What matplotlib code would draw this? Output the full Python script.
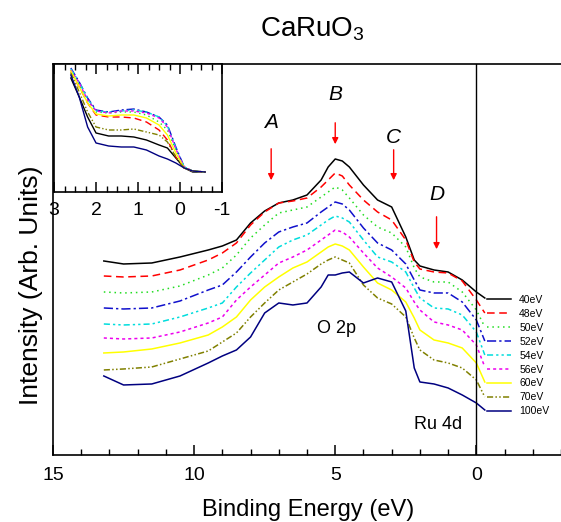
import matplotlib

matplotlib.use("Agg")
import matplotlib.pyplot as plt
from matplotlib.ticker import MultipleLocator

plt.rcParams["font.family"] = ["Liberation Sans", "DejaVu Sans"]
plt.rcParams["mathtext.fontset"] = "custom"
plt.rcParams["mathtext.rm"] = "Liberation Sans"
plt.rcParams["mathtext.it"] = "Liberation Sans:italic"
plt.rcParams["axes.unicode_minus"] = False

# photon energies (legend) and per-curve styles
labels = ["40eV", "48eV", "50eV", "52eV", "54eV", "56eV", "60eV", "70eV", "100eV"]
colors = ["#000000", "#ff0000", "#22dd22", "#1010cc", "#00dddd",
          "#ee00ee", "#ffff00", "#808000", "#000080"]
styles = ["-", (0, (5, 3)), (0, (1, 2.5)), (0, (6, 2, 1.5, 2)),
          (0, (4, 2, 1.5, 2, 1.5, 2)), (0, (2, 2)), "-",
          (0, (4, 1.5, 1, 1.5, 1, 1.5)), "-"]

# main panel: binding energy (eV) and stacked intensities (arb. units)
energy = [13.2, 12.5, 11.5, 10.5, 9.5, 9.0, 8.5, 8.0, 7.5, 7.0, 6.5, 6.0, 5.5, 5.25,
          5.0, 4.75, 4.5, 4.0, 3.5, 3.0, 2.5, 2.2, 2.0, 1.5, 1.0, 0.5, 0.0, -0.3]
i_40 = [194, 191, 192, 198, 205, 209, 215, 232, 244, 252, 255, 260, 275, 288,
        296, 294, 288, 270, 255, 248, 218, 195, 189, 185, 183, 175, 163, 157]
i_48 = [179, 178, 179, 185, 195, 202, 212, 230, 243, 252, 254, 257, 268, 275,
        282, 279, 270, 255, 243, 235, 215, 193, 186, 183, 182, 174, 155, 142]
i_50 = [163, 162, 163, 169, 180, 187, 200, 217, 230, 242, 245, 248, 258, 263,
        268, 265, 257, 240, 228, 222, 208, 187, 178, 173, 173, 163, 145, 128]
i_52 = [147, 146, 147, 154, 165, 170, 183, 198, 212, 223, 228, 232, 243, 248,
        253, 251, 245, 227, 212, 205, 191, 175, 165, 162, 162, 153, 135, 114]
i_54 = [131, 130, 131, 138, 147, 152, 168, 182, 195, 208, 215, 220, 230, 235,
        239, 237, 233, 215, 198, 193, 183, 167, 157, 147, 146, 140, 123, 100]
i_56 = [117, 116, 117, 123, 132, 138, 155, 168, 180, 192, 198, 205, 215, 220,
        225, 223, 218, 202, 187, 178, 167, 153, 145, 133, 130, 125, 110, 88]
i_60 = [102, 103, 106, 112, 120, 128, 138, 155, 168, 178, 187, 193, 203, 208,
        211, 209, 205, 188, 172, 165, 153, 137, 125, 115, 112, 107, 92, 73]
i_70 = [85, 86, 88, 96, 104, 113, 122, 138, 152, 165, 173, 181, 191, 195,
        198, 195, 192, 170, 157, 151, 138, 117, 105, 95, 92, 87, 75, 58]
i_100 = [79, 70, 71, 79, 92, 99, 105, 118, 142, 152, 150, 152, 168, 180,
         180, 182, 183, 172, 177, 173, 144, 87, 73, 71, 67, 60, 52, 45]
spectra = [i_40, i_48, i_50, i_52, i_54, i_56, i_60, i_70, i_100]

# inset: near-Fermi-level region
ins_energy = [2.6, 2.4, 2.2, 2.0, 1.7, 1.4, 1.1, 0.8, 0.5, 0.3, 0.1, -0.1, -0.3, -0.6]
ins_40 = [114, 95, 75, 59, 56, 56, 55, 52, 47, 44, 34, 24, 20, 20]
ins_48 = [120, 105, 89, 77, 75, 75, 74, 70, 62, 52, 35, 24, 21, 20]
ins_50 = [122, 107, 92, 80, 79, 80, 80, 77, 70, 62, 42, 25, 21, 20]
ins_52 = [124, 110, 94, 82, 80, 82, 83, 80, 75, 67, 45, 25, 21, 20]
ins_54 = [123, 110, 93, 81, 80, 81, 82, 80, 75, 66, 44, 25, 21, 20]
ins_56 = [122, 109, 92, 81, 79, 81, 81, 79, 74, 65, 43, 25, 21, 20]
ins_60 = [121, 105, 89, 78, 76, 77, 77, 74, 67, 57, 39, 24, 21, 20]
ins_70 = [119, 100, 80, 65, 62, 62, 63, 60, 57, 50, 35, 24, 21, 20]
ins_100 = [117, 95, 65, 49, 46, 45, 45, 42, 36, 33, 29, 24, 21, 20]
ins_spectra = [ins_40, ins_48, ins_50, ins_52, ins_54, ins_56, ins_60, ins_70, ins_100]

# feature markers A-D
feat_names = ["A", "B", "C", "D"]
feat_x = [7.27, 5.0, 2.93, 1.41]
feat_top = [309, 335, 308, 241]
feat_tip = [272, 308, 272, 203]
feat_label_y = [332, 360, 317, 260]

fig = plt.figure(figsize=(5.61, 5.22), dpi=100)
ax = fig.add_axes([0.0945, 0.1284, 0.9055, 0.749])

for y, c, ls, lab in zip(spectra, colors, styles, labels):
    ax.plot(energy, y, color=c, linestyle=ls, linewidth=1.1, label=lab)

ax.axvline(0, color="black", linewidth=1.0)
ax.set_xlim(15, -3)
ax.set_ylim(0, 391)
ax.xaxis.set_major_locator(MultipleLocator(5))
ax.xaxis.set_minor_locator(MultipleLocator(1))
ax.tick_params(axis="x", which="both", direction="in", top=False, labelsize=14, pad=8.5)
ax.tick_params(axis="x", which="major", length=7, width=1.1)
ax.tick_params(axis="x", which="minor", length=4, width=1.0)
ax.set_yticks([])
ax.spines["right"].set_visible(False)
for s in ("left", "bottom", "top"):
    ax.spines[s].set_linewidth(1.2)

for name, x, top, tip, ly in zip(feat_names, feat_x, feat_top, feat_tip, feat_label_y):
    ax.annotate("", xy=(x, tip), xytext=(x, top),
                arrowprops=dict(arrowstyle="-|>", color="red", lw=1.0, mutation_scale=9))
    ax.text(x, ly, name, fontsize=15, style="italic", ha="center", va="center")

ax.text(4.95, 126, "O 2p", fontsize=13, ha="center", va="center")
ax.text(1.34, 30, "Ru 4d", fontsize=13, ha="center", va="center")

ax.legend(loc="upper left", bbox_to_anchor=(0.868, 0.4354), bbox_transform=fig.transFigure,
          frameon=False, fontsize=7.5, handlelength=2.3, handletextpad=0.8,
          labelspacing=0.38, borderpad=0, borderaxespad=0)

fig.text(0.556, 0.931, "CaRuO$_3$", fontsize=20, ha="center", va="baseline")
fig.text(0.549, 0.012, "Binding Energy (eV)", fontsize=17, ha="center", va="baseline")
fig.text(0.055, 0.454, "Intensity (Arb. Units)", fontsize=19, rotation=90,
         ha="center", va="center")

# inset
ins = fig.add_axes([0.0963, 0.6322, 0.2995, 0.2452])
for y, c, ls in zip(ins_spectra, colors, styles):
    ins.plot(ins_energy, y, color=c, linestyle=ls, linewidth=1.0)
ins.set_xlim(3, -1)
ins.set_ylim(0, 128)
ins.xaxis.set_major_locator(MultipleLocator(1))
ins.xaxis.set_minor_locator(MultipleLocator(0.25))
ins.tick_params(axis="x", which="both", direction="in", top=True, labelsize=14, pad=7.5)
ins.tick_params(axis="x", which="major", length=7, width=1.1)
ins.tick_params(axis="x", which="minor", length=4, width=1.0)
ins.set_yticks([])
for s in ins.spines.values():
    s.set_linewidth(1.2)

fig.savefig("out.png", dpi=100)
